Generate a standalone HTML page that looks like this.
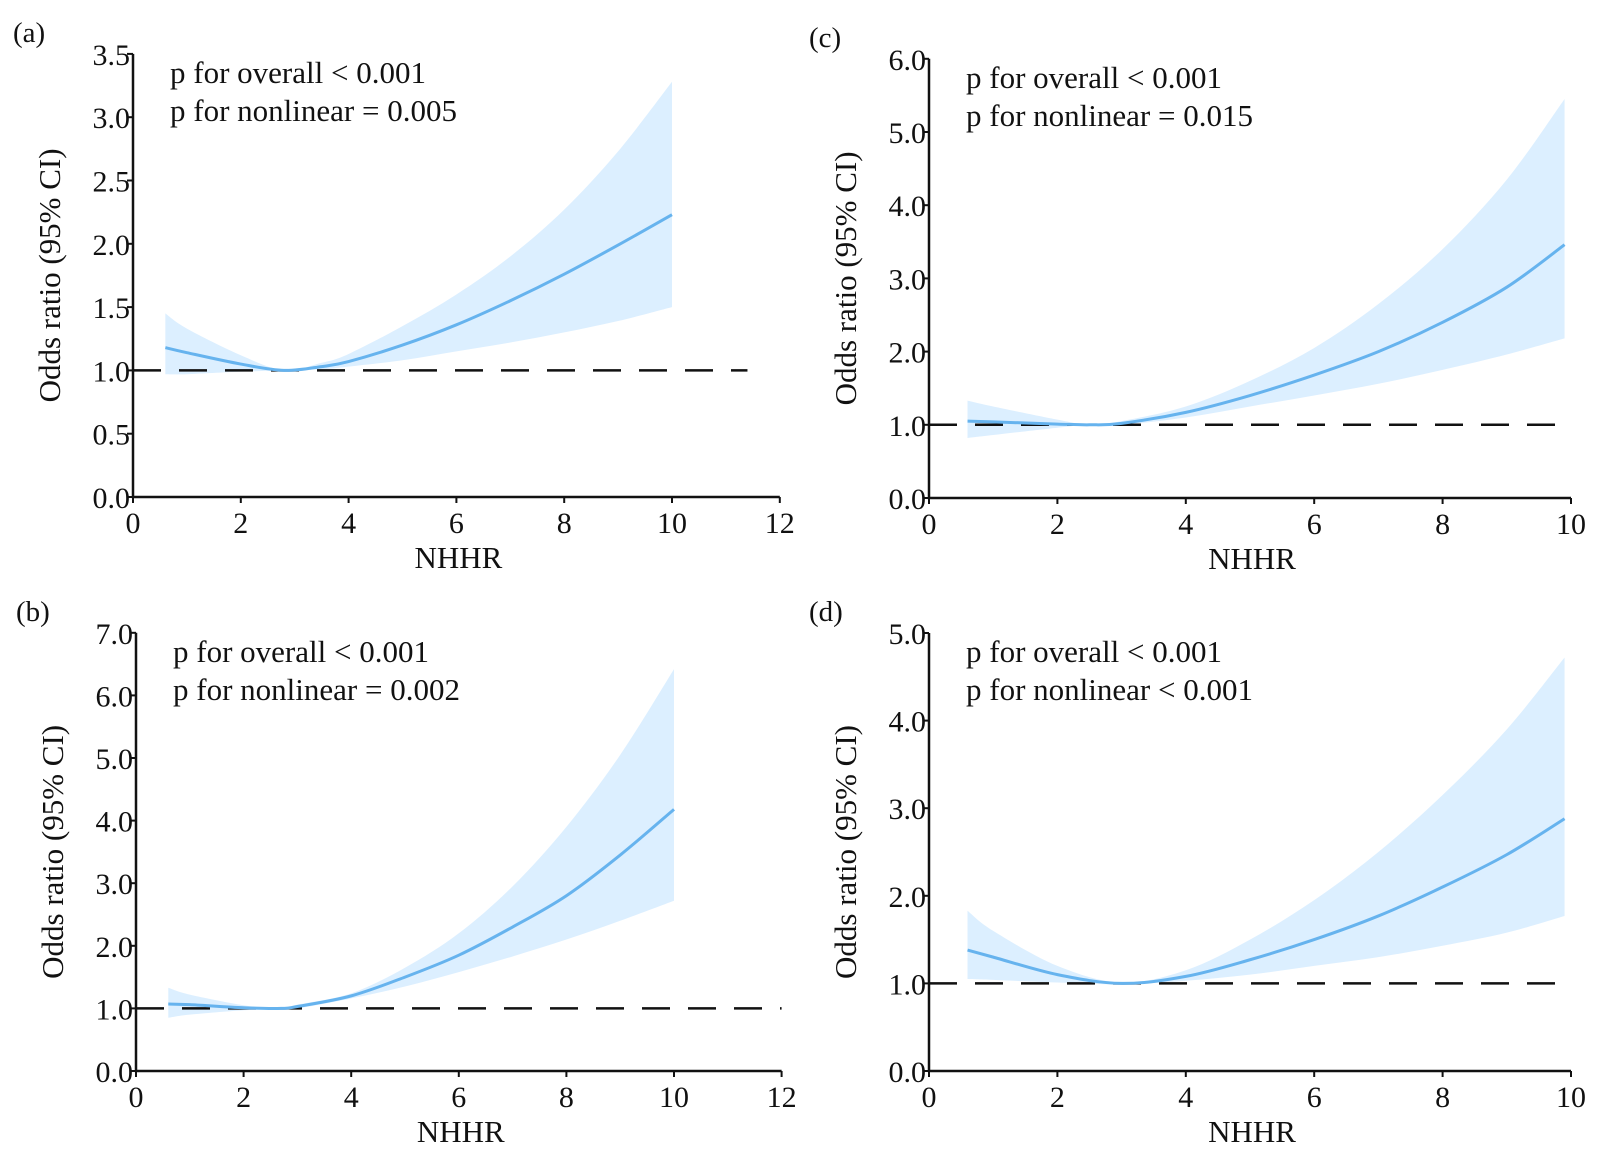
<!DOCTYPE html>
<html><head><meta charset="utf-8"><style>
html,body{margin:0;padding:0;background:#fff}
svg{display:block}
text{font-family:"Liberation Serif",serif;fill:#111}
</style></head><body>
<svg id="fig" width="1600" height="1161" viewBox="0 0 1600 1161"></svg>
<script>
// Panel (a)
const xA=[0.6,1,2,2.8,3.5,4,5,6,7,8,9,10];
const midA=[1.18,1.14,1.05,1.0,1.03,1.07,1.2,1.36,1.55,1.76,1.99,2.23];
const upA=[1.45,1.33,1.12,1.0,1.06,1.13,1.35,1.6,1.9,2.27,2.73,3.28];
const loA=[0.97,0.97,0.99,1.0,1.01,1.03,1.08,1.15,1.22,1.3,1.39,1.5];
// Panel (c)
const xC=[0.6,1,2,2.5,3,4,5,6,7,8,9,9.9];
const midC=[1.05,1.04,1.01,1.0,1.02,1.17,1.4,1.68,2.0,2.4,2.88,3.46];
const upC=[1.33,1.25,1.07,1.0,1.05,1.25,1.6,2.05,2.65,3.4,4.35,5.45];
const loC=[0.82,0.86,0.96,1.0,1.0,1.1,1.25,1.4,1.56,1.75,1.96,2.18];
// Panel (b)
const xB=[0.6,1,2,2.7,3,4,5,6,7,8,9,10];
const midB=[1.07,1.06,1.01,1.0,1.03,1.2,1.5,1.85,2.3,2.8,3.45,4.18];
const upB=[1.33,1.22,1.05,1.0,1.06,1.24,1.65,2.2,2.95,3.9,5.05,6.42];
const loB=[0.85,0.9,0.97,1.0,1.0,1.16,1.35,1.58,1.83,2.1,2.4,2.72];
// Panel (d)
const xD=[0.6,1,2,3,4,5,6,7,8,9,9.9];
const midD=[1.38,1.3,1.1,1.0,1.08,1.27,1.5,1.77,2.1,2.47,2.88];
const upD=[1.83,1.6,1.2,1.01,1.15,1.5,1.95,2.5,3.15,3.9,4.72];
const loD=[1.05,1.04,1.01,0.99,1.03,1.1,1.2,1.3,1.43,1.58,1.77];
// tick labels
const xTicks12=[0,2,4,6,8,10,12];
const xTicks10=[0,2,4,6,8,10];
const yTicksA=["0.0","0.5","1.0","1.5","2.0","2.5","3.0","3.5"];
const yTicksC=["0.0","1.0","2.0","3.0","4.0","5.0","6.0"];
const yTicksB=["0.0","1.0","2.0","3.0","4.0","5.0","6.0","7.0"];
const yTicksD=["0.0","1.0","2.0","3.0","4.0","5.0"];
const pOverall=["p for overall < 0.001","p for overall < 0.001","p for overall < 0.001","p for overall < 0.001"];
const pNonlin=["p for nonlinear = 0.005","p for nonlinear = 0.015","p for nonlinear = 0.002","p for nonlinear < 0.001"];

const NS="http://www.w3.org/2000/svg";
const svg=document.getElementById('fig');
function mk(tag,attrs,parent,txt){const e=document.createElementNS(NS,tag);for(const k in attrs)e.setAttribute(k,attrs[k]);if(txt!==undefined)e.textContent=txt;(parent||svg).appendChild(e);return e;}
// Catmull-Rom smooth path segments through points (no leading M)
function smooth(pts){
 let s='';
 for(let i=0;i<pts.length-1;i++){
  const p0=pts[Math.max(0,i-1)],p1=pts[i],p2=pts[i+1],p3=pts[Math.min(pts.length-1,i+2)];
  const c1=[p1[0]+(p2[0]-p0[0])/6,p1[1]+(p2[1]-p0[1])/6];
  const c2=[p2[0]-(p3[0]-p1[0])/6,p2[1]-(p3[1]-p1[1])/6];
  s+=` C${c1[0]},${c1[1]} ${c2[0]},${c2[1]} ${p2[0]},${p2[1]}`;
 }
 return s;
}

const panels=[
 {id:'a',lab:'(a)',x0:133,y0:497,xu:53.9,yu:126.6,xmax:12,xt:xTicks12,yt:yTicksA,ystep:0.5,xs:xA,mid:midA,up:upA,lo:loA,dashEnd:11.4,ti:0},
 {id:'c',lab:'(c)',x0:929,y0:498,xu:64.2,yu:73.2,xmax:10,xt:xTicks10,yt:yTicksC,ystep:1,xs:xC,mid:midC,up:upC,lo:loC,dashEnd:10,ti:1},
 {id:'b',lab:'(b)',x0:136,y0:1071,xu:53.8,yu:62.6,xmax:12,xt:xTicks12,yt:yTicksB,ystep:1,xs:xB,mid:midB,up:upB,lo:loB,dashEnd:12,ti:2},
 {id:'d',lab:'(d)',x0:929,y0:1071,xu:64.2,yu:87.6,xmax:10,xt:xTicks10,yt:yTicksD,ystep:1,xs:xD,mid:midD,up:upD,lo:loD,dashEnd:10,ti:3}
];

panels.forEach(p=>{
 const g=mk('g',{});
 
 
 const X=v=>p.x0+v*p.xu, Y=v=>p.y0-v*p.yu;
 const ytop=Y((p.yt.length-1)*p.ystep);
 const upPts=p.xs.map((x,i)=>[X(x),Y(p.up[i])]);
 const loPts=p.xs.map((x,i)=>[X(x),Y(p.lo[i])]).reverse();
 const midPts=p.xs.map((x,i)=>[X(x),Y(p.mid[i])]);
 const d='M'+upPts[0].join(',')+smooth(upPts)+' L'+loPts[0].join(',')+smooth(loPts)+'Z';
 const band=mk('path',{d:d,fill:'#dcefff',stroke:'none'},g);
 
 
 const ref=mk('line',{x1:X(0),y1:Y(1),x2:X(p.dashEnd),y2:Y(1),stroke:'#111','stroke-width':2.5,'stroke-dasharray':'28,18'},g);
 
 
 const cur=mk('path',{d:'M'+midPts[0].join(',')+smooth(midPts),fill:'none',stroke:'#66b3ee','stroke-width':3},g);
 
 
 const ax=mk('path',{d:`M${p.x0},${ytop} L${p.x0},${p.y0} L${X(p.xmax)},${p.y0}`,fill:'none',stroke:'#111','stroke-width':2.5},g);
 
 
 p.yt.forEach((t,i)=>{
  const y=Y(i*p.ystep);
  mk('line',{x1:p.x0-6,y1:y,x2:p.x0,y2:y,stroke:'#111','stroke-width':2},g);
  const tx=mk('text',{x:p.x0-3,y:y+11,'text-anchor':'end','font-size':30},g,t);
  
  
 });
 p.xt.forEach(v=>{
  const x=X(v);
  mk('line',{x1:x,y1:p.y0,x2:x,y2:p.y0+6,stroke:'#111','stroke-width':2},g);
  const tx=mk('text',{x:x,y:p.y0+36,'text-anchor':'middle','font-size':30},g,String(v));
  
  
 });
 const xt=mk('text',{x:X(p.xmax/2)+2,y:p.y0+71,'text-anchor':'middle','font-size':31},g,'NHHR');
 
 
 const yc=(ytop+p.y0)/2;
 const yx=p.x0-73;
 const yti=mk('text',{x:yx,y:yc,'text-anchor':'middle','font-size':31,transform:`rotate(-90 ${yx} ${yc})`},g,'Odds ratio (95% CI)');
 
 
 const pl=mk('text',{x:p.x0-120,y:ytop-12,'font-size':29},g,p.lab);
 
 
 const t1=mk('text',{x:p.x0+37,y:ytop+29,'font-size':31},g,pOverall[p.ti]);
 
 
 const t2=mk('text',{x:p.x0+37,y:ytop+67,'font-size':31},g,pNonlin[p.ti]);
 
 
});
</script>
</body></html>
